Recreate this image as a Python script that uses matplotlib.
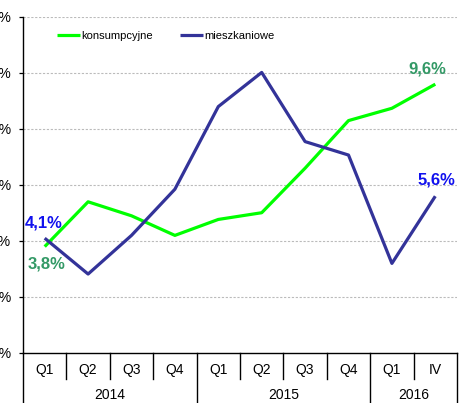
import matplotlib
matplotlib.use("Agg")
import matplotlib.pyplot as plt
from matplotlib.lines import Line2D
import matplotlib.transforms as mtransforms

plt.rcParams['font.family'] = ['Liberation Sans', 'DejaVu Sans']

quarters = ["Q1", "Q2", "Q3", "Q4", "Q1", "Q2", "Q3", "Q4", "Q1", "IV"]
years = ["2014", "2015", "2016"]
year_spans = [(0, 3), (4, 7), (8, 9)]
konsumpcyjne = [3.8, 5.4, 4.9, 4.2, 4.77, 5.01, 6.6, 8.3, 8.74, 9.6]
mieszkaniowe = [4.1, 2.82, 4.2, 5.85, 8.8, 10.02, 7.55, 7.07, 3.2, 5.6]
yticks = [0, 2, 4, 6, 8, 10, 12]

W, H = 468, 403
fig = plt.figure(figsize=(W / 100, H / 100), dpi=100)
ax = fig.add_axes([23 / W, (H - 353) / H, 434 / W, 336 / H])

x = list(range(len(quarters)))
green = "#00FF00"
navy = "#333399"
ax.plot(x, konsumpcyjne, color=green, lw=2.3, label="konsumpcyjne", solid_capstyle="butt")
ax.plot(x, mieszkaniowe, color=navy, lw=2.3, label="mieszkaniowe", solid_capstyle="butt")

ax.set_xlim(-0.5, len(quarters) - 0.5)
ax.set_ylim(0, 12)
ax.set_yticks(yticks)
ax.set_yticklabels([f"{v}%" for v in yticks], fontsize=10)
ax.tick_params(axis="y", length=3, width=0.9, pad=5.5, color="black")
ax.set_xticks([])
for v in yticks[1:]:
    ax.axhline(v, color="#bbbbbb", lw=0.8, ls=(0, (2, 1.5)), zorder=0)

for s in ["top", "right"]:
    ax.spines[s].set_visible(False)
ax.spines["left"].set_linewidth(1.0)
ax.spines["bottom"].set_linewidth(1.0)

trans = mtransforms.blended_transform_factory(ax.transData, ax.transAxes)
ph = 336.0  # axes height in px
q_y = -17 / ph
yr_y = -42 / ph
for i, q in enumerate(quarters):
    ax.text(i, q_y, q, transform=trans, ha="center", va="center", fontsize=10, clip_on=False)
for (a, b), yr in zip(year_spans, years):
    ax.text((a + b) / 2, yr_y, yr, transform=trans, ha="center", va="center", fontsize=10, clip_on=False)

# separators
year_bounds = [a - 0.5 for a, b in year_spans] + [year_spans[-1][1] + 0.5]
for i in range(len(quarters) + 1):
    xb = i - 0.5
    if xb in year_bounds:
        y0 = -50 / ph
    else:
        y0 = -26 / ph
    ax.add_line(Line2D([xb, xb], [0, y0], transform=trans, color="black", lw=1.0, clip_on=False))

# data labels
blue_lbl = "#1111EE"
green_lbl = "#339966"
ax.text(-0.03, 4.65, "4,1%", color=blue_lbl, fontsize=12, fontweight="bold", ha="center", va="center")
ax.text(0.05, 3.18, "3,8%", color=green_lbl, fontsize=12, fontweight="bold", ha="center", va="center")
ax.text(8.81, 10.14, "9,6%", color=green_lbl, fontsize=12, fontweight="bold", ha="center", va="center")
ax.text(9.02, 6.18, "5,6%", color=blue_lbl, fontsize=12, fontweight="bold", ha="center", va="center")

leg = ax.legend(loc="center left", bbox_to_anchor=((57 - 23) / 434, (353 - 36) / 336), ncol=2,
                frameon=False, fontsize=8, handlelength=2.1, handletextpad=0.1,
                columnspacing=2.4, borderpad=0, borderaxespad=0)

fig.savefig("out.png", dpi=100)
